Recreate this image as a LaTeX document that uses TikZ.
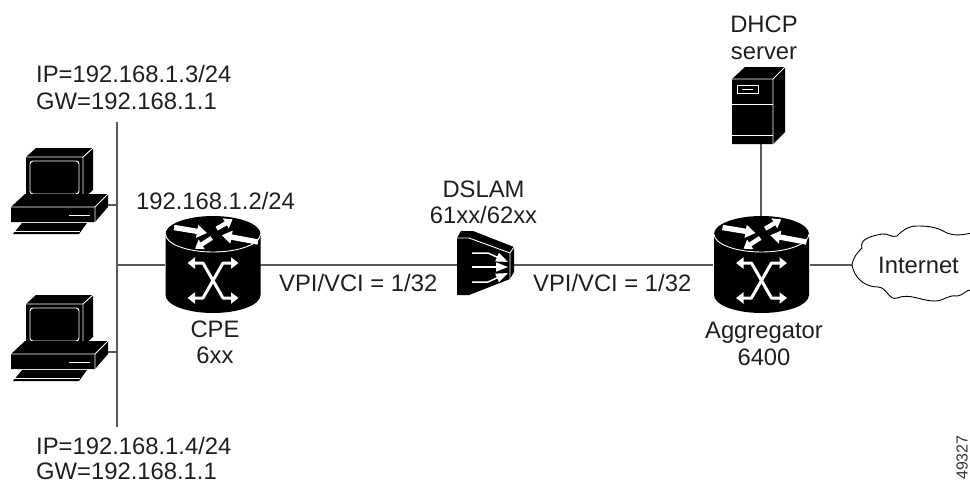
\documentclass[tikz,border=0pt]{standalone}
\usepackage{fontspec}
\setmainfont{Liberation Sans}
\usetikzlibrary{arrows.meta}
\tikzset{
  lbl/.style={inner sep=0pt,anchor=base,font=\fontsize{23.8}{27}\selectfont,text=black!88},
  lblL/.style={lbl,anchor=base west},
  conn/.style={draw=black!65,line width=1.3pt},
  wln/.style={draw=white,line width=.9pt},
  slot/.style={inner sep=0pt,minimum width=#1,draw=none},
  warrow/.style={white,line width=5.4pt,-{Triangle[width=12.5pt,length=10pt]}},
  warrowS/.style={white,line width=4.4pt,-{Triangle[width=11pt,length=8pt]}},
  xarrow/.style={white,line width=3pt,{Triangle[width=11pt,length=7.5pt]}-{Triangle[width=11pt,length=7.5pt]},line join=round},
  darrow/.style={white,line width=1.5pt,-{Triangle[width=9pt,length=12pt]}},
  pics/routericon/.style={code={
    \fill[black] (-47.5,0) -- (-47.5,61) .. controls (-47.5,71) and (-26,79) .. (0,79)
      .. controls (26,79) and (47.5,71) .. (47.5,61) -- (47.5,0)
      .. controls (47.5,-10) and (26,-18) .. (0,-18)
      .. controls (-26,-18) and (-47.5,-10) .. (-47.5,0) -- cycle;
    \draw[wln] (-47.5,0) .. controls (-47.5,10) and (-26,18) .. (0,18)
      .. controls (26,18) and (47.5,10) .. (47.5,0);
    \draw[warrow] (-39,-6.5) -- (-6,-1);
    \draw[warrowS] (3.7,-5.3) -- (19.7,-14.7);
    \draw[warrow] (45,8) -- (8.7,1.3);
    \draw[warrowS] (-1.3,4) -- (-18,14.7);
    \draw[xarrow] (-25.5,29) -- (-10,29) -- (10,64) -- (25.5,64);
    \draw[xarrow] (25.5,29) -- (10,29) -- (-10,64) -- (-25.5,64);
  }},
  pics/pcicon/.style={code={
    % coordinates relative to the monitor front top-left corner
    \fill[black] (0,0) -- (10,-9) -- (67,-9) -- (67,33) -- (57,42) -- (0,42) -- cycle;
    \draw[wln] (0,0) -- (57,0) -- (67,-9) (57,0) -- (57,42);
    \draw[wln,rounded corners=3pt] (4,4) rectangle (53,37);
    \fill[black] (-15,50) -- (-1,37) -- (82,37) -- (82,50) -- (69,65) -- (-15,65) -- cycle;
    \draw[wln] (-15,50) -- (69,50) -- (82,37) (69,50) -- (69,65);
    \draw[wln] (43,58) -- (64,58);
    \fill[black] (-4,66) -- (61,66) -- (53,77) -- (-13,77) -- cycle;
    \draw[wln] (-12,74) -- (54,74);
  }}
}
\begin{document}
\begin{tikzpicture}[x=1pt,y=-1pt]
\useasboundingbox (0,0) rectangle (970,483);

% Invisible anchor nodes of the icons
\node[slot=95pt,minimum height=97pt] (cpe) at (212.5,264.5) {};
\node[slot=97pt,minimum height=97pt] (agg) at (761.5,264.5) {};
\node[slot=57pt,minimum height=65pt] (dslam) at (485.5,263) {};
\coordinate (busT) at (117,122);
\coordinate (busB) at (117,427);
\coordinate (busA) at (117,205);
\coordinate (busC) at (117,265);
\coordinate (busD) at (117,352);
\coordinate (pcAe) at (100,205);
\coordinate (pcBe) at (100,352);
\coordinate (cloudL) at (852,265);
\coordinate (dhcpB) at (761,143);
\coordinate (aggT) at (761,216);

% Connectors
\draw[conn] (busT) -- (busB);
\draw[conn] (pcAe) -- (busA);
\draw[conn] (pcBe) -- (busD);
\draw[conn] (busC) -- (cpe.west |- busC);
\draw[conn] (cpe.east |- busC) -- (dslam.west |- busC);
\draw[conn] (dslam.east |- busC) -- (agg.west |- busC);
\draw[conn] (agg.east |- busC) -- (cloudL);
\draw[conn] (dhcpB) -- (aggT);

% Computers
\pic at (26,157) {pcicon};
\pic at (26,304) {pcicon};

% Routers
\pic at (213,234) {routericon};
\pic at (761.5,234) {routericon};

% DSLAM
\fill[black] (457,238) -- (461,231) -- (473,231) -- (514,247) -- (514,272) -- (510,279) -- (469,295) -- (457,295) -- cycle;
\draw[wln] (457,238) -- (469,238) -- (510,253) -- (510,279) (510,253) -- (514,247);
\draw[darrow] (472,253) -- (488,253) -- (508,262);
\draw[darrow] (472,267) -- (508,267);
\draw[darrow] (472,282) -- (488,282) -- (508,273);

% DHCP server
\fill[black] (732,79) -- (745,67) -- (785,67) -- (785,132) -- (773,144) -- (732,144) -- cycle;
\draw[wln] (732,79) -- (773,79) -- (785,67) (773,79) -- (773,144);
\draw[wln] (732,104) -- (773,104);
\draw[wln] (732,135) -- (773,135);
\draw[wln] (737,85) rectangle (758,93);
\draw[wln] (742,89) -- (753,89);

% Cloud
\draw[black,line width=.9pt,fill=white] (cloudL)
  to[out=80,in=225] (862,248)
  to[out=110,in=190] (882,234)
  to[out=10,in=200] (897,236)
  to[out=45,in=180] (917,226)
  to[out=0,in=150] (947,233)
  to[out=-20,in=190] (972,233)
  -- (972,290)
  to[out=170,in=0] (957,296)
  to[out=170,in=0] (935,301)
  to[out=180,in=20] (897,298)
  to[out=200,in=0] (878,287)
  to[out=180,in=-80] (cloudL);
\node[lbl] (internet) at (918.5,273) {Internet};

% Labels
\node[lblL] (ipA) at (36,82) {IP=192.168.1.3/24};
\node[lblL] (gwA) at (36,109) {GW=192.168.1.1};
\node[lblL] (ipB) at (36,454) {IP=192.168.1.4/24};
\node[lblL] (gwB) at (36,479.5) {GW=192.168.1.1};
\node[lbl] (cpeip) at (215.5,209) {192.168.1.2/24};
\node[lbl] (cpeA) at (215,337) {CPE};
\node[lbl] (cpeB) at (215,363) {6xx};
\node[lblL] (vpiA) at (279,291) {VPI/VCI = 1/32};
\node[lblL] (vpiB) at (533,291) {VPI/VCI = 1/32};
\node[lbl] (dslamA) at (483.5,197) {DSLAM};
\node[lbl] (dslamB) at (483.5,223) {61xx/62xx};
\node[lbl] (dhcpA) at (764,32) {DHCP};
\node[lbl] (dhcpC) at (764,59) {server};
\node[lbl] (aggA) at (764,338) {Aggregator};
\node[lbl] (aggB) at (764,365) {6400};
\node[inner sep=0pt,rotate=90,anchor=base west,font=\fontsize{16}{18}\selectfont,text=black!80] (fig) at (967.5,480) {49327};
\end{tikzpicture}
\end{document}
